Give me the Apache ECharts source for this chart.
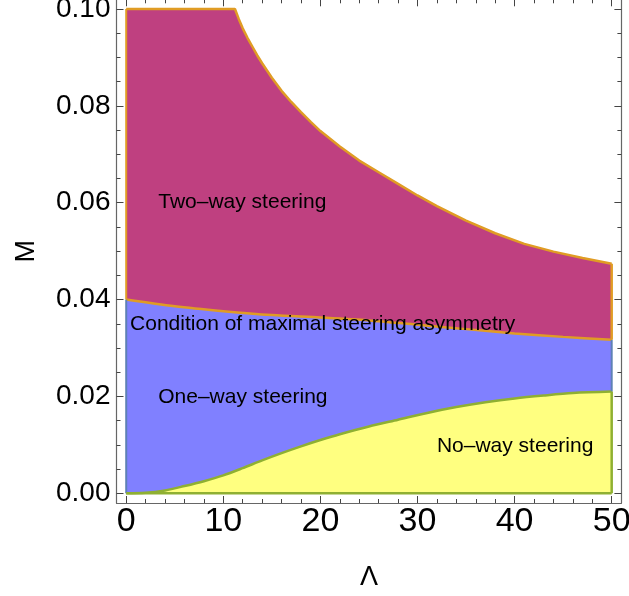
<!DOCTYPE html>
<html><head><meta charset="utf-8">
<script src="https://cdn.jsdelivr.net/npm/echarts@6/dist/echarts.min.js"></script>
<style>html,body{margin:0;padding:0;background:#fff}#c{width:629px;height:596px}</style>
</head><body><div id="c"></div>
<script>
// Upper boundary of two-way steering region
const topX = [0, 11.2, 11.6, 12, 12.5, 13, 13.5, 14, 15, 16, 17, 18, 19, 20, 22, 24, 26, 28, 30, 32, 35, 38, 41, 44, 47, 50];
const topY = [0.1, 0.1, 0.0979, 0.0960, 0.0940, 0.0922, 0.0904, 0.0888, 0.0858, 0.0831, 0.0808, 0.0787, 0.0767, 0.0748, 0.0716, 0.0687, 0.0663, 0.0639, 0.0615, 0.0593, 0.0563, 0.0537, 0.0515, 0.0499, 0.0486, 0.0474];
// Condition of maximal steering asymmetry
const midX = [0, 5, 10, 15, 20, 25, 30, 35, 40, 45, 50];
const midY = [0.0400, 0.0386, 0.0376, 0.0368, 0.0363, 0.0357, 0.0348, 0.0339, 0.0330, 0.0323, 0.0317];
// Lower boundary (one-way / no-way)
const botX = [0, 2, 4, 6, 8, 10, 12, 14, 16, 18, 20, 22, 25, 28, 31, 34, 37, 40, 43, 46, 50];
const botY = [0, 0.0001, 0.0006, 0.0015, 0.0025, 0.0037, 0.0052, 0.0068, 0.0083, 0.0097, 0.0110, 0.0122, 0.0138, 0.0152, 0.0166, 0.0178, 0.0188, 0.0196, 0.0202, 0.0207, 0.0210];
// Region labels
const labelText = ['Two\u2013way steering', 'Condition of maximal steering asymmetry', 'One\u2013way steering', 'No\u2013way steering'];
const labelX = [3.3, 0.4, 3.3, 32.0];
const labelY = [0.0602, 0.0350, 0.0199, 0.0098];
// Ticks
const xMajor = [0, 10, 20, 30, 40, 50];
const xMinor = [2, 4, 6, 8, 12, 14, 16, 18, 22, 24, 26, 28, 32, 34, 36, 38, 42, 44, 46, 48];
const yMajor = [0, 0.02, 0.04, 0.06, 0.08, 0.10];
const yMinor = [0.005, 0.01, 0.015, 0.025, 0.03, 0.035, 0.045, 0.05, 0.055, 0.065, 0.07, 0.075, 0.085, 0.09, 0.095];

const FONT = 'Liberation Sans, Arial, sans-serif';
const C_MAG = '#BF4080', C_BLUE = '#8080FF', C_YEL = '#FFFF80';
const E_BLUE = '#5E81B5', E_ORG = '#E09C24', E_GRN = '#8FB032';
const AX = '#666';
const XR = {min: -1, max: 51}, YR = {min: -0.002, max: 0.102};

const zip = (xs, ys) => xs.map((x, i) => [x, ys[i]]);
const last = a => a[a.length - 1];

function xAx(pos, vals, len, labels, line) {
  return Object.assign({
    type: 'value', position: pos, gridIndex: 0,
    axisLine: {show: line, onZero: false, lineStyle: {color: AX, width: 1.2}},
    axisTick: {show: true, inside: true, length: len, customValues: vals, lineStyle: {color: '#444', width: 1}},
    axisLabel: labels ? {show: true, customValues: vals, fontSize: 34, fontFamily: FONT, color: '#000', margin: 2} : {show: false},
    splitLine: {show: false}, minorTick: {show: false}
  }, XR);
}
function yAx(pos, vals, len, labels, line) {
  return Object.assign({
    type: 'value', position: pos, gridIndex: 0,
    axisLine: {show: line, onZero: false, lineStyle: {color: AX, width: 1.2}},
    axisTick: {show: true, inside: true, length: len, customValues: vals, lineStyle: {color: '#444', width: 1}},
    axisLabel: labels ? {show: true, customValues: vals, fontSize: 28, fontFamily: FONT, color: '#000', margin: 6,
      formatter: v => v.toFixed(2)} : {show: false},
    splitLine: {show: false}, minorTick: {show: false}
  }, YR);
}

const xAxes = [xAx('bottom', xMajor, 7, true, true), xAx('bottom', xMinor, 4, false, false),
               xAx('top', xMajor, 7, false, true), xAx('top', xMinor, 4, false, false)];
const yAxes = [yAx('left', yMajor, 7, true, true), yAx('left', yMinor, 4, false, false),
               yAx('right', yMajor, 7, false, true), yAx('right', yMinor, 4, false, false)];
xAxes[0].name = '\u039B';
xAxes[0].nameLocation = 'middle';
xAxes[0].nameGap = 61;
xAxes[0].nameTextStyle = {fontSize: 27, fontFamily: FONT, color: '#000'};
yAxes[0].name = 'M';
yAxes[0].nameLocation = 'middle';
yAxes[0].nameGap = 76;
yAxes[0].nameTextStyle = {fontSize: 27, fontFamily: FONT, color: '#000'};

function area(xs, ys, lineColor, fill, smooth) {
  return {type: 'line', data: zip(xs, ys), showSymbol: false, symbol: 'none', smooth: smooth,
    lineStyle: {color: lineColor, width: 2.5}, areaStyle: {color: fill, opacity: 1, origin: 0},
    silent: true, clip: true};
}
function edge(pts, color, w) {
  return {type: 'line', data: pts, showSymbol: false, symbol: 'none',
    lineStyle: {color: color, width: w}, silent: true};
}

const series = [
  area(topX, topY, E_ORG, C_MAG, false),
  area(midX, midY, E_ORG, C_BLUE, 0.3),
  area(botX, botY, E_GRN, C_YEL, 0.3),
  edge([[0, botY[0]], [0, midY[0]]], E_BLUE, 2),
  edge([[last(midX), last(botY)], [last(midX), last(midY)]], E_BLUE, 2),
  edge([[0, midY[0]], [0, topY[0]]], E_ORG, 2),
  edge([[last(midX), last(midY)], [last(topX), last(topY)]], E_ORG, 2.5),
  edge([[0, 0], [last(botX), 0]], E_GRN, 2.5),
  edge([[last(botX), 0], [last(botX), last(botY)]], E_GRN, 2.5),
  {type: 'custom', silent: true, z: 10,
   data: zip(labelX, labelY),
   encode: {x: 0, y: 1},
   renderItem: function (params, api) {
     const p = api.coord([api.value(0), api.value(1)]);
     return {type: 'text', x: p[0], y: p[1],
       style: {text: labelText[params.dataIndex], fill: '#000', font: '21px ' + FONT,
               align: 'left', verticalAlign: 'middle', textAlign: 'left', textVerticalAlign: 'middle'}};
   }}
];
series.forEach(s => { s.xAxisIndex = 0; s.yAxisIndex = 0; });

const chart = echarts.init(document.getElementById('c'), null, {renderer: 'canvas'});
chart.setOption({
  animation: false,
  backgroundColor: '#fff',
  grid: {left: 116.5, right: 7.6, top: -0.7, bottom: 93, outerBoundsMode: 'none', containLabel: false},
  xAxis: xAxes,
  yAxis: yAxes,
  series: series
});
</script></body></html>
